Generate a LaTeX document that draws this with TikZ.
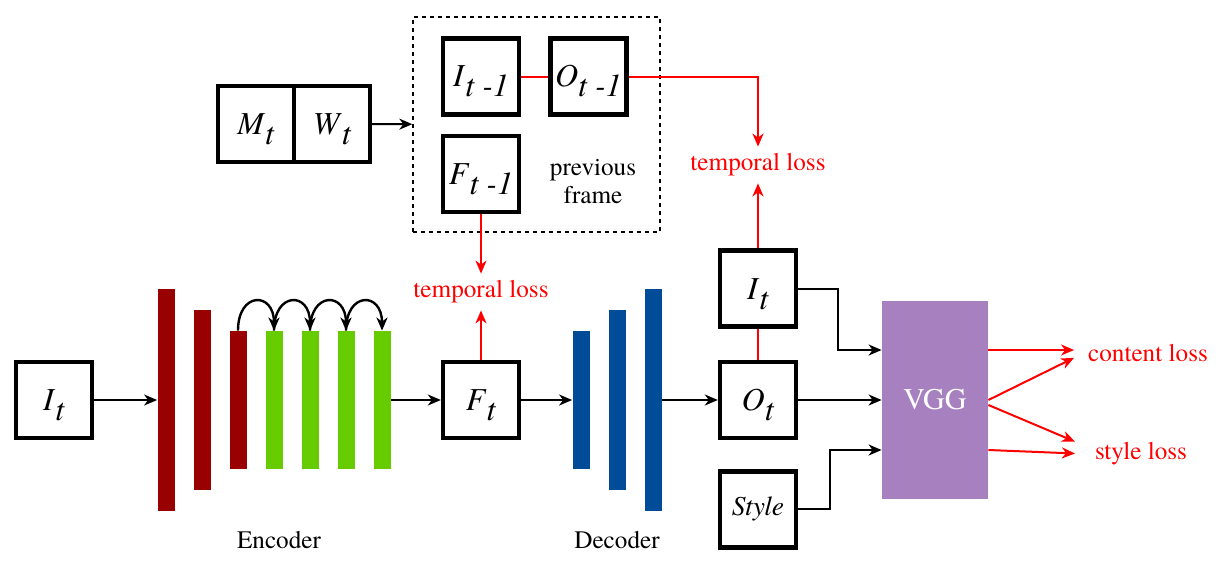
\documentclass[tikz,border=0pt]{standalone}
\usepackage{fontspec}
\setmainfont{texgyretermes}[Extension=.otf,UprightFont=*-regular,ItalicFont=*-italic,BoldFont=*-bold,BoldItalicFont=*-bolditalic]
\usetikzlibrary{arrows.meta,positioning}
\definecolor{encred}{HTML}{990000}
\definecolor{resgreen}{HTML}{66CC00}
\definecolor{decblue}{HTML}{004C99}
\definecolor{vggpurple}{HTML}{A680BF}
\tikzset{
  blk/.style={draw,line width=2.2pt,minimum size=38pt,inner sep=0pt,font=\fontsize{16}{18}\selectfont},
  bar/.style={inner sep=0pt,minimum width=8.5pt},
  arr/.style={line width=1pt,-{Stealth[length=6.5pt,width=5.5pt,inset=2pt]}},
  hop/.style={line width=1.2pt,-{Stealth[length=6.5pt,width=5.5pt,inset=2pt]}},
  loss/.style={red,line width=1pt,-{Stealth[length=6.5pt,width=5.5pt,inset=2pt]}},
  lnk/.style={red,line width=1pt},
  lbl/.style={font=\fontsize{12.6}{14}\selectfont},
  losslbl/.style={lbl,text=red}
}
\newcommand{\sym}[2]{\textit{#1}\raisebox{-5pt}[0pt][0pt]{\textit{#2}}}

\begin{document}
\begin{tikzpicture}[x=0.5pt,y=-0.5pt]
\useasboundingbox (0,0) rectangle (1220,562);
% input and encoder
\node[blk] (in) at (54,400) {\sym{I}{t}};
\foreach \i/\x/\h in {1/166/222,2/202/180,3/238/138}
  \node[bar,fill=encred,minimum height=\h*0.5pt] (enc\i) at (\x,400) {};
\foreach \i/\x in {1/274,2/310,3/346,4/382}
  \node[bar,fill=resgreen,minimum height=69pt] (res\i) at (\x,400) {};
\foreach \a/\b in {enc3/res1,res1/res2,res2/res3,res3/res4}
  \draw[hop] (\a.north) to[out=90,in=90,looseness=2.8] (\b.north);
\node[lbl] (encl) at (279,540) {Encoder};
% features and decoder
\node[blk] (ft) at (481,400) {\sym{F}{t}};
\foreach \i/\x/\h in {1/581/138,2/617/180,3/653/222}
  \node[bar,fill=decblue,minimum height=\h*0.5pt] (dec\i) at (\x,400) {};
\node[lbl] (decl) at (617,540) {Decoder};
% outputs and loss network
\node[blk] (ot) at (758,400) {\sym{O}{t}};
\node[blk,above=15.5pt of ot] (it) {\sym{I}{t}};
\node[blk,below=14.5pt of ot,font=\fontsize{13.7}{16}\selectfont\itshape] (sty) {Style};
\node[fill=vggpurple,minimum width=53pt,minimum height=99pt,inner sep=0pt,text=white,font=\fontsize{15}{18}\selectfont] (vgg) at (935,400) {VGG};
% previous frame
\node[blk] (mt) at (256,124) {\sym{M}{t}};
\node[blk,right=-2.2pt of mt] (wt) {\sym{W}{t}};
\node[draw,line width=0.7pt,dash pattern=on 2.2pt off 1.8pt,minimum width=123.5pt,minimum height=107.5pt] (prev) at (536.5,124.5) {};
\node[blk] (im1) at (481,76.5) {\sym{I}{t -1}};
\node[blk,right=13.5pt of im1] (om1) {\sym{O}{t -1}};
\node[blk,below=8.5pt of im1] (fm1) {\sym{F}{t -1}};
\node[lbl,align=center] (pf) at (593,182) {previous\\frame};
% loss labels
\node[losslbl] (tl1) at (481,292) {temporal loss};
\node[losslbl] (tl2) at (758,165) {temporal loss};
\node[losslbl] (cl) at (1148,353) {content loss};
\node[losslbl] (sl) at (1141,454) {style loss};
% connectors
\draw[arr] (in) -- (enc1);
\draw[arr] (res4) -- (ft);
\draw[arr] (ft) -- (dec1);
\draw[arr] (dec3) -- (ot);
\draw[arr] (wt) -- (prev);
\draw[loss] (fm1) -- (tl1);
\draw[loss] (ft) -- (tl1);
\draw[lnk] (im1) -- (om1);
\draw[loss] (om1.east) -| (tl2.north);
\draw[loss] (it) -- (tl2);
\draw[lnk] (it) -- (ot);
\draw[arr] (it.east) -- ++(40,0) |- ([yshift=25pt]vgg.west);
\draw[arr] (ot) -- (vgg);
\draw[arr] (sty.east) -- ++(32,0) |- ([yshift=-25pt]vgg.west);
\draw[loss,shorten >=3.5pt] ([yshift=25pt]vgg.east) -- ([yshift=25pt]vgg.east -| cl.west);
\draw[loss] (vgg.east) -- ([xshift=-3.5pt,yshift=5.5pt]cl.south west);
\draw[loss] ([yshift=-2.5pt]vgg.east) -- ([xshift=-6.5pt,yshift=-3pt]sl.north west);
\draw[loss,shorten >=6.5pt] ([yshift=-25pt]vgg.east) -- (sl.west);
\end{tikzpicture}
\end{document}
